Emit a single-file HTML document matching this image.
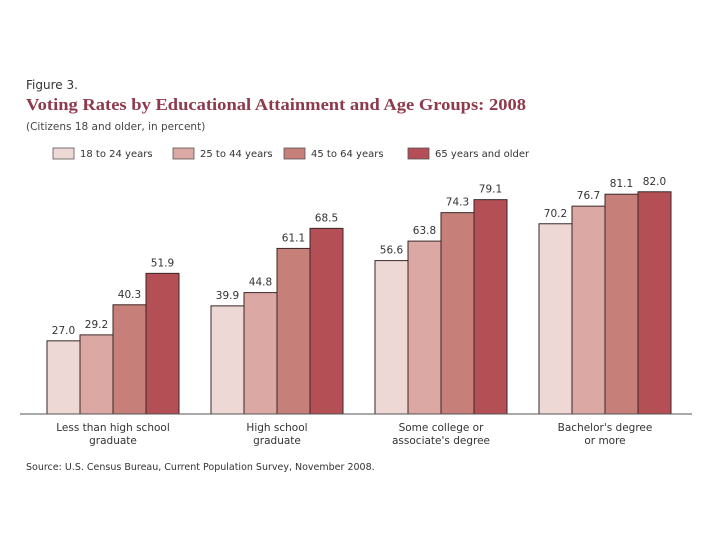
<!DOCTYPE html>
<html><head><meta charset="utf-8"><style>
body{margin:0;background:#fff;}
svg{display:block;font-family:"DejaVu Sans","Liberation Sans",sans-serif;}
</style></head><body>
<svg width="720" height="540" viewBox="0 0 720 540">
<text x="26" y="89" font-size="12" fill="#333">Figure 3.</text>
<text x="26" y="110" font-size="17" font-weight="bold" fill="#8e3a4c" font-family="Liberation Serif,serif" textLength="500" lengthAdjust="spacingAndGlyphs">Voting Rates by Educational Attainment and Age Groups: 2008</text>
<text x="26" y="130" font-size="10.5" fill="#444">(Citizens 18 and older, in percent)</text>
<g id="legend"></g>
<g id="bars"></g>
<line x1="20" y1="414" x2="692" y2="414" stroke="#555" stroke-width="1"/>
<text x="26" y="470" font-size="9.5" fill="#333">Source: U.S. Census Bureau, Current Population Survey, November 2008.</text>
</svg>
<script>
const categories=[["Less than high school","graduate"],["High school","graduate"],["Some college or","associate's degree"],["Bachelor's degree","or more"]];
const seriesNames=["18 to 24 years","25 to 44 years","45 to 64 years","65 years and older"];
const age18to24=[27.0,39.9,56.6,70.2];
const age25to44=[29.2,44.8,63.8,76.7];
const age45to64=[40.3,61.1,74.3,81.1];
const age65plus=[51.9,68.5,79.1,82.0];
const series=[age18to24,age25to44,age45to64,age65plus];
const colors=["#eed8d5","#dba8a3","#c67f79","#b44f56"];
const NS="http://www.w3.org/2000/svg";
const base=414, scale=2.71, groupStart=47, groupStep=164, barW=33;
const yPos=v=>base-v*scale;
const xPos=(g,s)=>groupStart+g*groupStep+s*barW;
function mk(tag,attrs,parent){const e=document.createElementNS(NS,tag);for(const k in attrs)e.setAttribute(k,attrs[k]);parent.appendChild(e);return e;}
const bars=document.getElementById('bars');
series.forEach((vals,s)=>{vals.forEach((v,g)=>{
 const r=mk('rect',{x:xPos(g,s),y:yPos(v),width:barW,height:base-yPos(v),fill:colors[s],stroke:"#3a2626","stroke-width":1},bars);
 
 
 const t=mk('text',{x:xPos(g,s)+barW/2,y:yPos(v)-7,"font-size":10.5,fill:"#333","text-anchor":"middle"},bars);
 t.textContent=v.toFixed(1);
 
 
});});
categories.forEach((c,g)=>{c.forEach((line,i)=>{
 const t=mk('text',{x:xPos(g,0)+2*barW,y:431+i*13,"font-size":10.5,fill:"#333","text-anchor":"middle"},bars);
 t.textContent=line;
 
 
});});
const legend=document.getElementById('legend');
const lx=[53,173,284,408];
seriesNames.forEach((n,i)=>{
 const r=mk('rect',{x:lx[i],y:148,width:21,height:11,fill:colors[i],stroke:"#555","stroke-width":0.8},legend);
 
 
 const t=mk('text',{x:lx[i]+27,y:157,"font-size":10,fill:"#333"},legend);
 t.textContent=n;
 
 
});
</script>
</body></html>
